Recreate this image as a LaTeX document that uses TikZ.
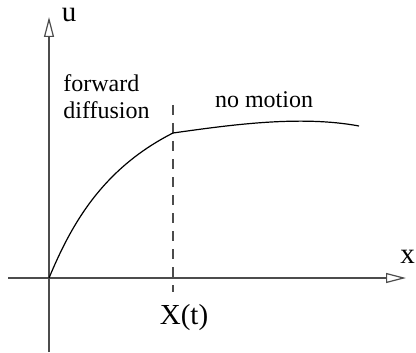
\documentclass[tikz,border=0pt]{standalone}
\usepackage{fontspec}
\setmainfont{Liberation Serif}
\usetikzlibrary{arrows.meta}
\begin{document}
\begin{tikzpicture}[x=0.5pt,y=-0.5pt,
  axis/.style={draw=black!70,line width=0.9pt,-{Triangle[open,length=10pt,width=5pt,line width=0.6pt]}},
  curve/.style={draw=black,line width=0.6pt},
  marker/.style={draw=black!70,line width=0.8pt,dash pattern=on 5pt off 4pt},
  lbl/.style={font=\fontsize{12}{13.5}\selectfont,inner sep=0pt},
  biglbl/.style={font=\fontsize{14.5}{16}\selectfont,inner sep=0pt}]
\useasboundingbox (0,0) rectangle (416,352);
\coordinate (O) at (49,278);
\coordinate (xs) at (8,278);
\coordinate (xe) at (406,278);
\coordinate (ys) at (49,352);
\coordinate (ye) at (49,17);
\coordinate (P) at (173,133);
\coordinate (E) at (359,126);
\coordinate (dt) at (173,105);
\coordinate (db) at (173,292);
\draw[axis] (xs) -- (xe);
\draw[axis] (ys) -- (ye);
\draw[marker] (dt) -- (db);
\draw[curve] (O) .. controls (70,228) and (100,170) .. (P);
\draw[curve] (P) .. controls (230,125) and (300,115) .. (E);
\node[biglbl] (u) at (69,15) {u};
\node[biglbl] (x) at (407.5,257) {x};
\node[lbl,align=left,anchor=north west] (fd) at (63,74) {forward\\diffusion};
\node[lbl] (nm) at (264,100) {no motion};
\node[biglbl] (Xt) at (184,318) {X(t)};
\end{tikzpicture}
\end{document}
